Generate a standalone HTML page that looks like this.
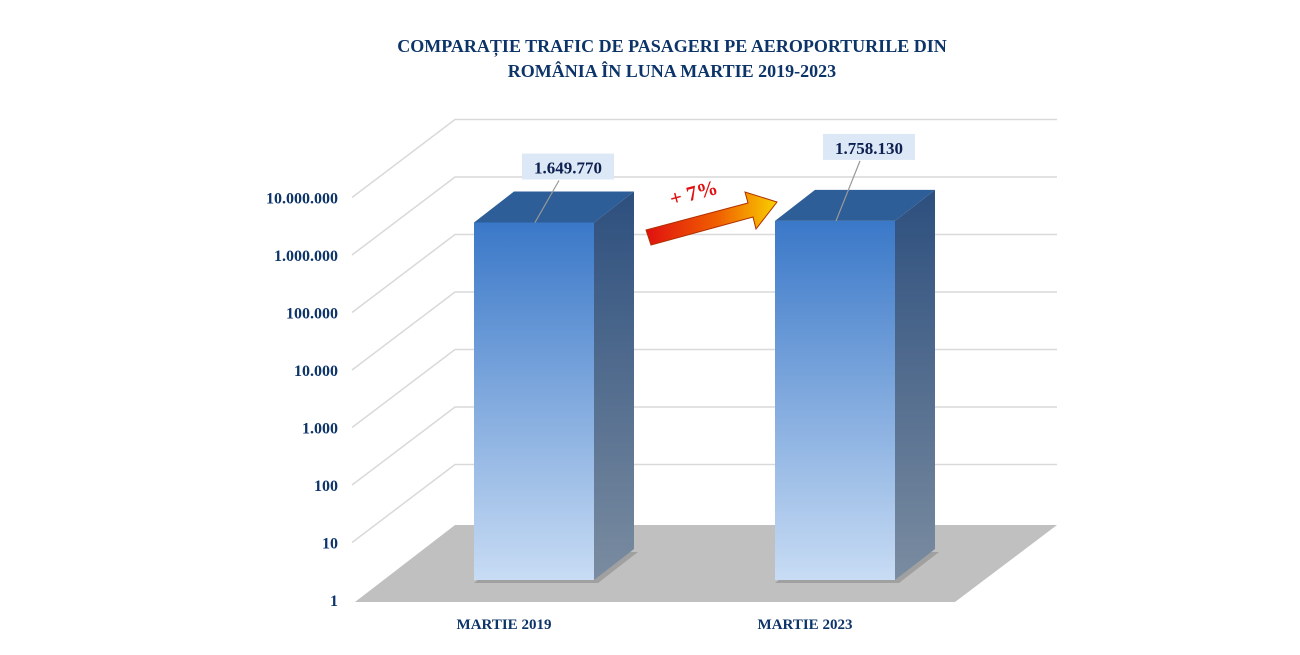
<!DOCTYPE html>
<html><head><meta charset="utf-8"><style>
body{margin:0;background:#fff;width:1300px;height:650px;overflow:hidden}
svg text{font-family:"Liberation Serif",serif;font-weight:bold}
</style></head><body>
<svg width="1300" height="650">
<defs>
<linearGradient id="gf" x1="0" y1="0" x2="0" y2="1"><stop offset="0" stop-color="#3a78c8"/><stop offset="1" stop-color="#c8dcf4"/></linearGradient>
<linearGradient id="gs" x1="0" y1="0" x2="0" y2="1"><stop offset="0" stop-color="#2d4f7e"/><stop offset="1" stop-color="#7a8ca0"/></linearGradient>
<linearGradient id="ga" x1="0" y1="0" x2="1" y2="0"><stop offset="0" stop-color="#e01010"/><stop offset="0.55" stop-color="#f06000"/><stop offset="1" stop-color="#f8d000"/></linearGradient>
</defs>
<text x="672" y="52" text-anchor="middle" font-size="18" fill="#0d3468">COMPARAȚIE TRAFIC DE PASAGERI PE AEROPORTURILE DIN</text>
<text x="672" y="77" text-anchor="middle" font-size="18" fill="#0d3468">ROMÂNIA ÎN LUNA MARTIE 2019-2023</text>
<polygon points="355,602 955,602 1057,525 455,525" fill="#c0c0c0"/>
<g id="grid"></g>
<g id="ylabels"></g>
<g id="bars"></g>
<polygon points="646,230 748,203 745,192 777,202 756,229 753,217 651,245" fill="url(#ga)" stroke="#b03000" stroke-width="1"/>
<text x="672" y="206" font-size="21" fill="#e01010" transform="rotate(-15 672 206)">+ 7%</text>
<g id="xlabels"></g>
</svg>
<script>
const categories=["MARTIE 2019","MARTIE 2023"];
const values=[1649770,1758130];
const valueLabels=["1.649.770","1.758.130"];
const tickValues=[1,10,100,1000,10000,100000,1000000,10000000];
const tickLabels=["1","10","100","1.000","10.000","100.000","1.000.000","10.000.000"];
const NS="http://www.w3.org/2000/svg";
const PX=57.5;
function yFront(v){return 600-Math.log10(v)*PX;}
function yBar(v){return 580-Math.log10(Math.max(v,1))*PX;}
function xCat(i){return 534+i*301;}
function mk(t,a,p){const e=document.createElementNS(NS,t);for(const k in a)e.setAttribute(k,a[k]);p.appendChild(e);return e;}
const grid=document.getElementById('grid'),yl=document.getElementById('ylabels'),bars=document.getElementById('bars'),xl=document.getElementById('xlabels');
tickValues.forEach((v,i)=>{
 const y=yFront(v);
 if(i>0){
  const l=mk('polyline',{points:`352,${y} 455,${y-78} 1057,${y-78}`,fill:'none',stroke:'#d9d9d9','stroke-width':1.5},grid);
  
  
 }
 const t=mk('text',{x:338,y:y+6,'text-anchor':'end','font-size':16,fill:'#0d3468'},yl);
 t.textContent=tickLabels[i];
 
 
});
values.forEach((v,i)=>{
 const x0=xCat(i)-60,x1=xCat(i)+60,yt=yBar(v),dx=40,dy=-31;
 const g=mk('g',{},bars);
 
 
 mk('polygon',{points:`${x0},583 ${x1+4},583 ${x1+dx+4},${583+dy} ${x0+dx},${583+dy}`,fill:'#808080',opacity:0.5},g);
 mk('rect',{x:x0,y:yt,width:x1-x0,height:580-yt,fill:'url(#gf)'},g);
 mk('polygon',{points:`${x1},${yt} ${x1+dx},${yt+dy} ${x1+dx},${580+dy} ${x1},580`,fill:'url(#gs)'},g);
 mk('polygon',{points:`${x0},${yt} ${x1},${yt} ${x1+dx},${yt+dy} ${x0+dx},${yt+dy}`,fill:'#2e5e98'},g);
 const lift=i?18:0;
 mk('line',{x1:x0+61,y1:yt,x2:x0+85,y2:yt-42-lift,stroke:'#999','stroke-width':1.2},g);
 const bw=92,bx=x0+48,by=yt-69-lift;
 const r=mk('rect',{x:bx,y:by,width:bw,height:26,fill:'#dde8f6'},g);
 
 
 const t=mk('text',{x:bx+bw/2,y:by+20,'text-anchor':'middle','font-size':17,fill:'#0d1f4f'},g);
 t.textContent=valueLabels[i];
 
 
 const c=mk('text',{x:xCat(i)-30,y:629,'text-anchor':'middle','font-size':15,fill:'#0d3468'},xl);
 c.textContent=categories[i];
 
 
});
</script>
</body></html>
